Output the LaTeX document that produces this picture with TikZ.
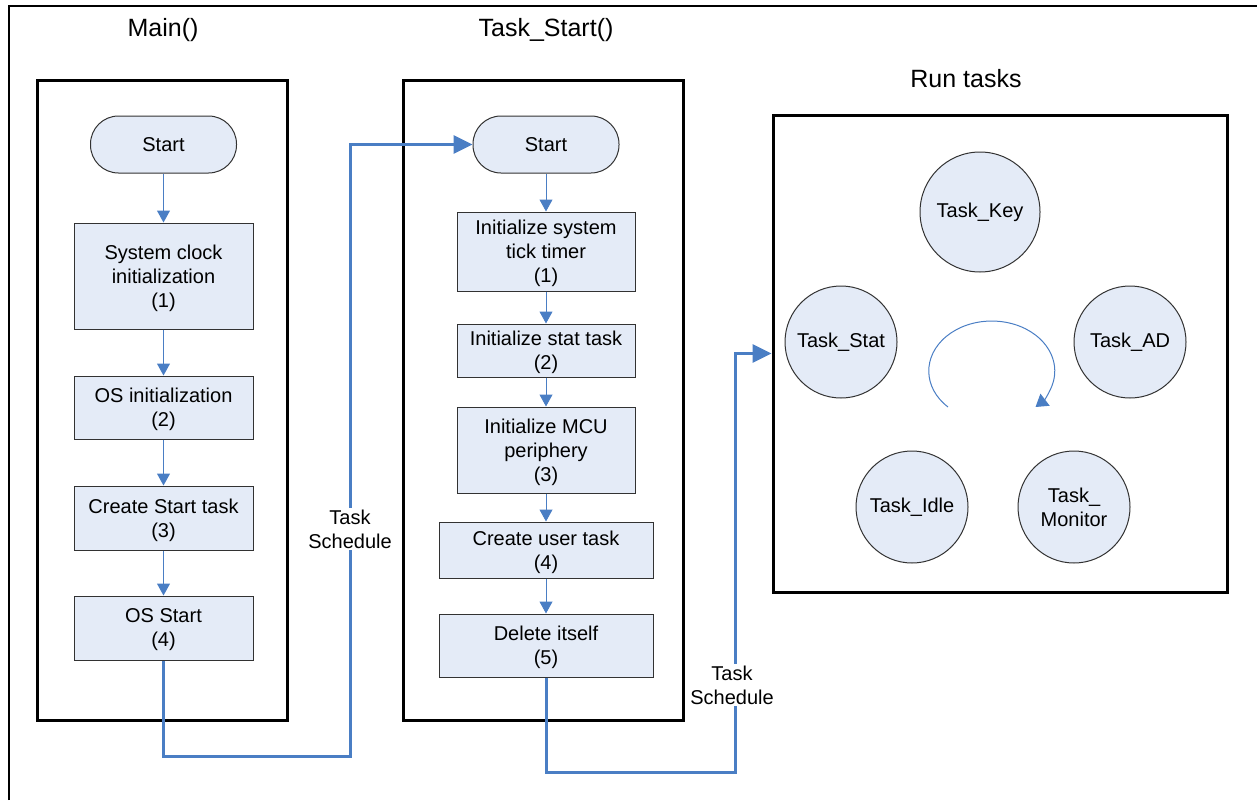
\documentclass[tikz,border=0pt]{standalone}
\usepackage{fontspec}
\setmainfont{Liberation Sans}
\usetikzlibrary{arrows.meta}
\definecolor{boxfill}{RGB}{228,235,247}
\definecolor{flowblue}{RGB}{74,126,196}
\definecolor{boxline}{RGB}{50,50,50}
\tikzset{
  every node/.style={font=\fontsize{20}{24}\selectfont},
  procbox/.style={draw=boxline, line width=1pt, fill=boxfill, align=center, inner sep=0pt, minimum width=179pt, text depth=0pt},
  termbox/.style={draw=boxline, line width=1pt, fill=boxfill, rounded corners=28pt, minimum width=146pt, minimum height=57pt, inner sep=0pt},
  taskcirc/.style={draw=boxline, line width=1pt, fill=boxfill, circle, minimum size=112pt, inner sep=0pt, align=center},
  frame/.style={draw=black, line width=3pt},
  thinarrow/.style={draw=flowblue, line width=1pt, -{Triangle[width=13pt,length=12pt]}},
  bigarrow/.style={draw=flowblue, line width=3pt, -{Triangle[width=18pt,length=19pt]}},
  looparrow/.style={draw=flowblue, line width=1pt, -{Triangle[width=15pt,length=12pt]}},
  title/.style={font=\fontsize{25}{30}\selectfont},
  schedlabel/.style={fill=white, align=center, inner sep=2pt}
}
\begin{document}
\begin{tikzpicture}[x=1pt,y=-1pt]
\useasboundingbox (0,0) rectangle (1257,800);
% outer frame (cropped)
\draw[line width=2pt] (9,800) -- (9,6) -- (1257,6);

% titles
\node[title] (tmain) at (163,30) {Main()};
\node[title] (tts) at (546,30) {Task\_Start()};
\node[title] (trun) at (966,79) {Run tasks};

% group frames
\node[frame, minimum width=250pt, minimum height=640pt, inner sep=0pt] (fmain) at (162,400) {};
\node[frame, minimum width=280pt, minimum height=640pt, inner sep=0pt] (fts) at (543,400) {};
\node[draw=black, line width=3pt, minimum width=454pt, minimum height=477pt, inner sep=0pt] (rt) at (1000,353.5) {};

% Main flow
\node[termbox] (m0) at (163.5,144.5) {Start};
\node[procbox, minimum height=106pt] (m1) at (163.5,276) {System clock\\initialization\\(1)};
\node[procbox, minimum height=63pt] (m2) at (163.5,407.5) {OS initialization\\(2)};
\node[procbox, minimum height=64pt] (m3) at (163.5,518) {Create Start task\\(3)};
\node[procbox, minimum height=64pt] (m4) at (163.5,628) {OS Start\\(4)};
\draw[thinarrow] (m0) -- (m1);
\draw[thinarrow] (m1) -- (m2);
\draw[thinarrow] (m2) -- (m3);
\draw[thinarrow] (m3) -- (m4);

% Task_Start flow
\node[termbox] (s0) at (546,144.5) {Start};
\node[procbox, minimum width=178pt, minimum height=79pt] (s1) at (546,251.5) {Initialize system\\tick timer\\(1)};
\node[procbox, minimum width=178pt, minimum height=53pt] (s2) at (546,350.5) {Initialize stat task\\(2)};
\node[procbox, minimum width=178pt, minimum height=86pt] (s3) at (546,450) {Initialize MCU\\periphery\\(3)};
\node[procbox, minimum width=214pt, minimum height=56pt] (s4) at (546,550) {Create user task\\(4)};
\node[procbox, minimum width=214pt, minimum height=63pt] (s5) at (546,645.5) {Delete itself\\(5)};
\draw[thinarrow] (s0) -- (s1);
\draw[thinarrow] (s1) -- (s2);
\draw[thinarrow] (s2) -- (s3);
\draw[thinarrow] (s3) -- (s4);
\draw[thinarrow] (s4) -- (s5);

% task schedule connectors
\coordinate (b1) at (350,756);
\draw[bigarrow] (m4.south) |- (b1) |- (s0.west);
\node[schedlabel] (l1) at (350,529) {Task\\Schedule};
\coordinate (b2) at (735,772);
\draw[bigarrow] (s5.south) |- (b2) |- (rt.west);
\node[schedlabel] (l2) at (732,685) {Task\\Schedule};

% run tasks
\node[taskcirc, minimum size=120pt] (ck) at (980,212) {Task\_Key};
\node[taskcirc] (cs) at (841,342) {Task\_Stat};
\node[taskcirc] (ca) at (1130,342) {Task\_AD};
\node[taskcirc] (ci) at (912,507) {Task\_Idle};
\node[taskcirc] (cm) at (1074,507) {Task\_\\Monitor};

\coordinate (lp) at (948,407);
\draw[looparrow] (lp) arc[start angle=226, end angle=-46, x radius=63pt, y radius=50pt];
\end{tikzpicture}
\end{document}
